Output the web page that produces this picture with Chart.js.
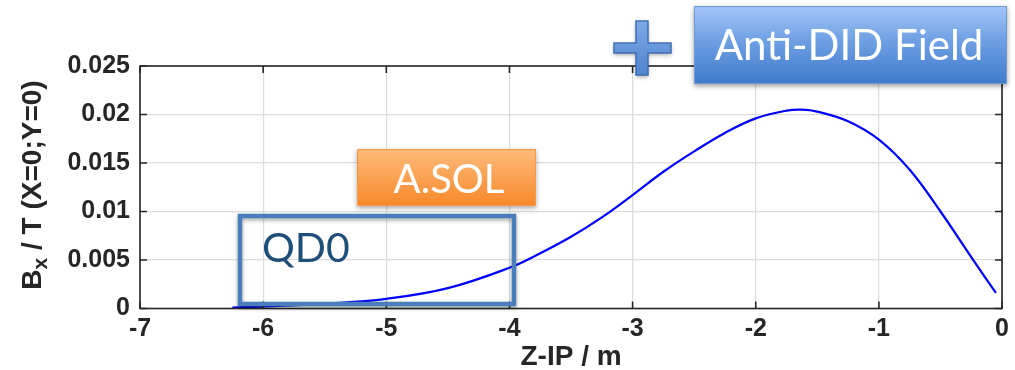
<!DOCTYPE html>
<html>
<head>
<meta charset="utf-8">
<script src="https://cdn.jsdelivr.net/npm/chart.js@4/dist/chart.umd.min.js"></script>
<style>
  html, body { margin: 0; padding: 0; background: #fff; }
  #wrap { width: 1015px; height: 370px; position: relative; }
</style>
</head>
<body>
<div id="wrap"><canvas id="chart" width="1015" height="370"></canvas></div>
<script>
// Z-IP in metres and Bx field
var zPos = [-6.25, -6, -5.5, -5, -4.5, -4, -3.75, -3.5, -3.25, -3, -2.75, -2.5,
            -2.25, -2, -1.75, -1.625, -1.5, -1.25, -1, -0.75, -0.5, -0.25, -0.05];
var bxVals = [0.0001, 0.0002, 0.0005, 0.0010, 0.0021, 0.0042, 0.0057, 0.0074, 0.0094,
              0.0117, 0.0141, 0.0162, 0.0181, 0.0196, 0.0204, 0.0205, 0.0203, 0.0193,
              0.0174, 0.0143, 0.0100, 0.0053, 0.0016];
var xTicks = [-7, -6, -5, -4, -3, -2, -1, 0];
var yTicks = [0, 0.005, 0.01, 0.015, 0.02, 0.025];

var xTitle = 'Z-IP / m';
var yTitleMain = 'B';
var yTitleSub = 'x';
var yTitleRest = ' / T (X=0;Y=0)';

var points = zPos.map(function (z, i) { return { x: z, y: bxVals[i] }; });

var axisFont = { family: 'Liberation Sans, Arial, sans-serif', size: 25, weight: 'bold' };
var labelFont = 'Lato, "Open Sans", sans-serif';

var decorations = {
    id: 'decorations',
    afterDraw: function (chart) {
        var ctx = chart.ctx;
        var a = chart.chartArea;
        var xs = chart.scales.x, ys = chart.scales.y;

        // box around plot + inward ticks
        ctx.save();
        ctx.strokeStyle = '#262626';
        ctx.lineWidth = 1.6;
        ctx.strokeRect(a.left, a.top, a.right - a.left, a.bottom - a.top);
        ctx.beginPath();
        xTicks.forEach(function (v) {
            var px = xs.getPixelForValue(v);
            ctx.moveTo(px, a.bottom); ctx.lineTo(px, a.bottom - 7);
            ctx.moveTo(px, a.top); ctx.lineTo(px, a.top + 7);
        });
        yTicks.forEach(function (v) {
            var py = ys.getPixelForValue(v);
            ctx.moveTo(a.left, py); ctx.lineTo(a.left + 7, py);
            ctx.moveTo(a.right, py); ctx.lineTo(a.right - 7, py);
        });
        ctx.stroke();

        // axis titles
        ctx.fillStyle = '#262626';
        ctx.font = 'bold 28px Liberation Sans, Arial, sans-serif';
        ctx.textAlign = 'center';
        ctx.textBaseline = 'alphabetic';
        ctx.fillText(xTitle, (a.left + a.right) / 2, 365);

        ctx.translate(31, 185);
        ctx.rotate(-Math.PI / 2);
        ctx.textAlign = 'left';
        var big = 'bold 28px Liberation Sans, Arial, sans-serif';
        var small = 'bold 21px Liberation Sans, Arial, sans-serif';
        ctx.font = big;
        var w1 = ctx.measureText(yTitleMain).width;
        var w3 = ctx.measureText(yTitleRest).width;
        ctx.font = small;
        var w2 = ctx.measureText(yTitleSub).width;
        var x0 = -(w1 + w2 + w3) / 2;
        ctx.font = big;
        ctx.fillText(yTitleMain, x0, 10);
        ctx.font = small;
        ctx.fillText(yTitleSub, x0 + w1, 16);
        ctx.font = big;
        ctx.fillText(yTitleRest, x0 + w1 + w2, 10);
        ctx.restore();

        // QD0 outline box
        ctx.save();
        ctx.shadowColor = 'rgba(0,0,0,0.35)';
        ctx.shadowBlur = 4;
        ctx.shadowOffsetY = 2;
        ctx.strokeStyle = '#4a7ebb';
        ctx.lineWidth = 4.5;
        ctx.strokeRect(240, 216, 274, 88);
        ctx.restore();
        ctx.save();
        ctx.fillStyle = '#1f4e79';
        ctx.font = '41px ' + labelFont;
        ctx.textBaseline = 'alphabetic';
        ctx.textAlign = 'left';
        ctx.fillText('QD0', 262, 262);
        ctx.restore();

        // A.SOL orange box
        ctx.save();
        ctx.shadowColor = 'rgba(0,0,0,0.35)';
        ctx.shadowBlur = 5;
        ctx.shadowOffsetY = 2;
        var g = ctx.createLinearGradient(0, 149, 0, 206);
        g.addColorStop(0, '#ffbb7a');
        g.addColorStop(1, '#f7882a');
        ctx.fillStyle = g;
        ctx.fillRect(357, 149, 179, 57);
        ctx.restore();
        ctx.save();
        ctx.strokeStyle = '#f59a4a';
        ctx.lineWidth = 1;
        ctx.strokeRect(357.5, 149.5, 178, 56);
        ctx.fillStyle = '#ffffff';
        ctx.font = '40px ' + labelFont;
        ctx.textAlign = 'center';
        ctx.textBaseline = 'middle';
        ctx.fillText('A.SOL', 449, 180);
        ctx.restore();

        // plus sign
        ctx.save();
        ctx.shadowColor = 'rgba(0,0,0,0.35)';
        ctx.shadowBlur = 4;
        ctx.shadowOffsetY = 2;
        var gp = ctx.createLinearGradient(0, 21, 0, 75);
        gp.addColorStop(0, '#7fa9e6');
        gp.addColorStop(1, '#4f84cf');
        ctx.fillStyle = gp;
        ctx.strokeStyle = '#3f6fb4';
        ctx.lineWidth = 1.5;
        ctx.beginPath();
        ctx.moveTo(636, 21); ctx.lineTo(648, 21); ctx.lineTo(648, 43);
        ctx.lineTo(671, 43); ctx.lineTo(671, 53); ctx.lineTo(648, 53);
        ctx.lineTo(648, 75); ctx.lineTo(636, 75); ctx.lineTo(636, 53);
        ctx.lineTo(614, 53); ctx.lineTo(614, 43); ctx.lineTo(636, 43);
        ctx.closePath();
        ctx.fill();
        ctx.shadowColor = 'transparent';
        ctx.stroke();
        ctx.restore();

        // Anti-DID Field blue box
        ctx.save();
        ctx.shadowColor = 'rgba(0,0,0,0.4)';
        ctx.shadowBlur = 5;
        ctx.shadowOffsetY = 2;
        var gb = ctx.createLinearGradient(0, 6, 0, 84);
        gb.addColorStop(0, '#a3c6f8');
        gb.addColorStop(0.45, '#6e9fe3');
        gb.addColorStop(1, '#3f7bcb');
        ctx.fillStyle = gb;
        ctx.fillRect(694, 6, 313, 78);
        ctx.restore();
        ctx.save();
        ctx.strokeStyle = '#6f9ad6';
        ctx.lineWidth = 1;
        ctx.strokeRect(694.5, 6.5, 312, 77);
        ctx.fillStyle = '#ffffff';
        ctx.font = '42px ' + labelFont;
        ctx.textAlign = 'center';
        ctx.textBaseline = 'middle';
        ctx.fillText('Anti-DID Field', 849, 46);
        ctx.restore();
    }
};

var ctx = document.getElementById('chart').getContext('2d');
new Chart(ctx, {
    type: 'line',
    data: {
        datasets: [{
            data: points,
            borderColor: '#0000ff',
            borderWidth: 2.2,
            pointRadius: 0,
            fill: false,
            tension: 0.4
        }]
    },
    options: {
        responsive: false,
        animation: false,
        layout: { padding: { left: 0, right: 7, top: 66, bottom: 0 } },
        plugins: { legend: { display: false }, tooltip: { enabled: false } },
        scales: {
            x: {
                type: 'linear',
                min: -7, max: 0,
                afterBuildTicks: function (s) { s.ticks = xTicks.map(function (v) { return { value: v }; }); },
                afterFit: function (s) { s.height = 61.5; },
                grid: { color: '#dcdcdc', lineWidth: 1.2, drawTicks: false },
                border: { display: false },
                ticks: { font: axisFont, color: '#262626', padding: 6, maxRotation: 0,
                         callback: function (v) { return String(v); } }
            },
            y: {
                min: 0, max: 0.025,
                afterBuildTicks: function (s) { s.ticks = yTicks.map(function (v) { return { value: v }; }); },
                afterFit: function (s) { s.width = 140; },
                grid: { color: '#dcdcdc', lineWidth: 1.2, drawTicks: false },
                border: { display: false },
                ticks: { font: axisFont, color: '#262626', padding: 10,
                         callback: function (v) { return String(v); } }
            }
        }
    },
    plugins: [decorations]
});
</script>
</body>
</html>
